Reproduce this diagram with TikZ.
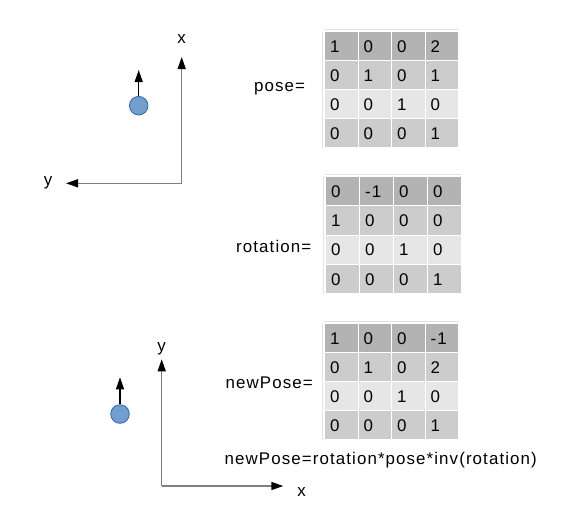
\documentclass[tikz,border=0pt]{standalone}
\usepackage{fontspec}
\setmainfont{Liberation Sans}[LetterSpace=6.5]
\usetikzlibrary{arrows.meta}
\definecolor{row0}{HTML}{B3B3B3}
\definecolor{row1}{HTML}{CCCCCC}
\definecolor{row2}{HTML}{E6E6E6}
\definecolor{row3}{HTML}{CCCCCC}
\definecolor{edgegrey}{HTML}{E3E3E3}
\definecolor{axisgrey}{HTML}{7F7F7F}
\definecolor{dotfill}{HTML}{729FCF}
\definecolor{dotdraw}{HTML}{3465A4}
\newcommand\mtab[6]{%
  \foreach \row [count=\r from 0] in {#6} {%
    \foreach \v [count=\c from 0] in \row {%
      \node[cellbox, fill=row\r, minimum width=#4pt, minimum height=#5pt] (#1-\r-\c) at ({#2+\c*#4},{#3+\r*#5}) {};
      \node[celltext] (#1t-\r-\c) at ({#2+\c*#4+6},{#3+(\r+1)*#5-8}) {\v};
    }
  }
  \draw[edgeline] ([yshift=1.5pt]#1-0-0.north west) -- ([yshift=1.5pt]#1-0-3.north east);
  \draw[edgeline] ([xshift=-1.5pt]#1-0-0.north west) -- ([xshift=-1.5pt]#1-3-0.south west);
}
\begin{document}
\begin{tikzpicture}[x=1pt,y=-1pt,
  font=\fontsize{16.9}{20}\selectfont,
  cellbox/.style={draw=white, line width=1pt, anchor=north west, inner sep=0pt},
  celltext/.style={anchor=base west, inner sep=0pt},
  label/.style={anchor=base west, inner sep=0pt},
  axlabel/.style={anchor=base, inner sep=0pt},
  edgeline/.style={draw=edgegrey, line width=0.8pt},
  axis/.style={draw=axisgrey, line width=1.5pt, -{Triangle[length=12pt,width=8pt,color=black]}},
  arr/.style={draw=black, line width=1.2pt, -{Triangle[length=12pt,width=8pt]}},
  dot/.style={circle, fill=dotfill, draw=dotdraw, line width=0.8pt, minimum size=18.6pt, inner sep=0pt}]
\useasboundingbox (0,0) rectangle (562,531);

% tables
\mtab{P}{324}{31}{33.5}{29}{{1,0,0,2},{0,1,0,1},{0,0,1,0},{0,0,0,1}}
\mtab{R}{325}{176}{34}{29.3}{{0,-1,0,0},{1,0,0,0},{0,0,1,0},{0,0,0,1}}
\mtab{N}{324}{323.3}{33.5}{29}{{1,0,0,-1},{0,1,0,2},{0,0,1,0},{0,0,0,1}}

% labels
\node[label] (lpose) at (254,91.7) {pose=};
\node[label] (lrot) at (236,252.3) {rotation=};
\node[label] (lnew) at (225.5,388.3) {newPose=};
\node[label] (lform) at (224.5,464.3) {newPose=rotation*pose*inv(rotation)};

% top frame
\coordinate (o1) at (181.7,183.3);
\coordinate (x1) at (181.7,57);
\coordinate (y1) at (66,183.3);
\draw[axis] (o1) -- (x1);
\draw[axis] (o1) -- (y1);
\node[axlabel] (lx1) at (181.5,43.3) {x};
\node[axlabel] (ly1) at (48,185) {y};
\node[dot] (d1) at (138.7,105.7) {};
\coordinate (h1) at (138.7,70);
\draw[arr] (d1.north) -- (h1);

% bottom frame
\coordinate (o2) at (161.7,486);
\coordinate (y2) at (161.7,359.3);
\coordinate (x2) at (283.3,486);
\draw[axis] (o2) -- (y2);
\draw[axis] (o2) -- (x2);
\node[axlabel] (ly2) at (161.7,351.7) {y};
\node[axlabel] (lx2) at (301.7,496) {x};
\node[dot] (d2) at (120,414) {};
\coordinate (h2) at (120,377.3);
\draw[arr] (d2.north) -- (h2);
\end{tikzpicture}
\end{document}
